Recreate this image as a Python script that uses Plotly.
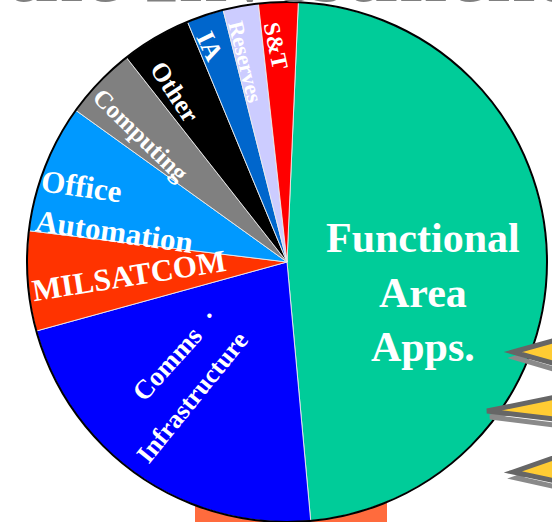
import plotly.graph_objects as go

# ---- data (percent of investment) ----
categories = ["Functional Area Apps.", "Comms Infrastructure", "MILSATCOM",
              "Office Automation", "Computing", "Other", "IA", "Reserves", "S&T"]
shares = [47.9, 22.2, 6.2, 8.0, 4.5, 4.35, 2.3, 2.2, 2.45]
slice_colors = ["#00CC99", "#0000FF", "#FF3300", "#0099FF", "#808080",
                "#000000", "#0066CC", "#CCCCFF", "#FF0000"]

W, H = 552, 522


def px(x):
    return x / W


def py(y):
    return 1 - y / H


# pie geometry (pixels)
CX, CY, R = 287, 262, 260
domain = dict(x=[px(CX - R), px(CX + R)], y=[max(0, py(CY + R)), min(1, py(CY - R))])

fig = go.Figure()
fig.add_trace(go.Pie(
    labels=categories, values=shares, sort=False, direction="clockwise",
    rotation=2.5, textinfo="none", hoverinfo="label+percent",
    marker=dict(colors=slice_colors, line=dict(color="rgba(235,235,235,0.9)", width=1)),
    domain=domain, showlegend=False,
))
# black rim
fig.add_trace(go.Pie(
    labels=["rim"], values=[1], textinfo="none", hoverinfo="skip",
    marker=dict(colors=["rgba(0,0,0,0)"], line=dict(color="black", width=2)),
    domain=domain, showlegend=False,
))

serif = "Liberation Serif, Times New Roman, serif"
labels = [
    # text, x, y, size, angle, align
    ("<b>Functional<br>Area<br>Apps.</b>", 423, 292, 42, 0, "center"),
    ("<b>MILSATCOM</b>", 129, 275, 31, -9, "center"),
    ("<b>Office<br>Automation</b>", 117, 211, 31, 8, "left"),
    ("<b>Computing</b>", 140, 135, 25, 44, "center"),
    ("<b>Other</b>", 174, 92, 26, 57, "center"),
    ("<b>IA</b>", 209, 46, 26, 64, "center"),
    ("<b>Reserves</b>", 246, 62, 22, 76, "center"),
    ("<b>S&amp;T</b>", 276, 45, 23, 78, "center"),
    ("<b>Comms</b>", 167, 364, 27, -48, "center"),
    ("<b>·</b>", 209, 316, 27, -48, "center"),
    ("<b>Infrastructure</b>", 192, 397, 26, -51, "center"),
]
for text, x, y, size, ang, al in labels:
    fig.add_annotation(
        text=text, x=px(x), y=py(y), xref="paper", yref="paper",
        xanchor="center", yanchor="middle", showarrow=False, textangle=ang,
        align=al, font=dict(family=serif, size=size, color="white"),
    )

# cut-off slide title at the top
fig.add_annotation(
    text="<b>the Investment</b>", x=px(3), y=py(22), xref="paper", yref="paper",
    xanchor="left", yanchor="bottom", showarrow=False,
    font=dict(family=serif, size=88, color="#808080"),
)

# slide decorations: orange bar behind the pie, lightning wedges at right
fig.add_shape(type="rect", xref="paper", yref="paper", layer="below",
              x0=px(195), x1=px(387), y0=py(530), y1=py(500),
              fillcolor="#FF6B3D", line=dict(width=0))
wedges = [(513, 352, 336, 368), (487, 411, 394, 421), (513, 472, 452, 484)]
for tx, ty, top, bot in wedges:
    shadow = f"M {px(tx+3)},{py(ty+6)} L {px(570)},{py(top+6)} L {px(570)},{py(bot+6)} Z"
    fig.add_shape(type="path", xref="paper", yref="paper", path=shadow,
                  fillcolor="rgba(0,0,0,0)", line=dict(color="#8a8a8a", width=5))
    path = f"M {px(tx)},{py(ty)} L {px(570)},{py(top)} L {px(570)},{py(bot)} Z"
    fig.add_shape(type="path", xref="paper", yref="paper", path=path,
                  fillcolor="#FFCC33", line=dict(color="#666666", width=5))

fig.update_layout(
    width=W, height=H, margin=dict(l=0, r=0, t=0, b=0),
    paper_bgcolor="white", plot_bgcolor="white",
)
fig.write_html("out.html", config={"displayModeBar": False},
               post_script="document.body.style.margin='0';")
